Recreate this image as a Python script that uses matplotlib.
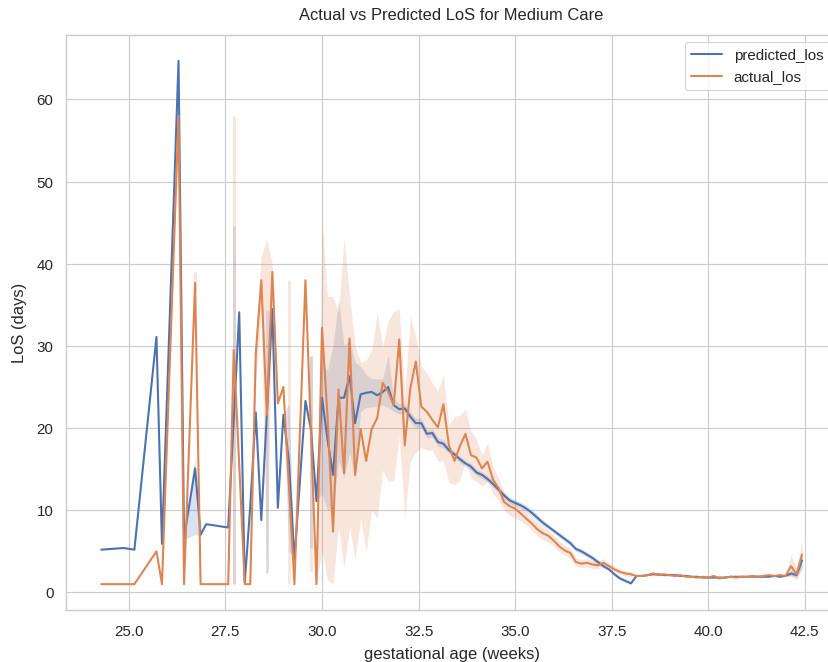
import numpy as np
import matplotlib
matplotlib.use("Agg")
import matplotlib.pyplot as plt
import seaborn as sns

# gestational age in days (x axis is days / 7)
days = [170, 174, 176, 180, 181, 184, 185, 187, 188, 189, 193] + list(range(194, 298))

predicted_los = [
    5.2, 5.4, 5.2, 31.1, 5.9, 64.7, 6.6, 15.1, 7.0, 8.3, 7.9,
    21.0, 34.1, 1.2, 10.5, 21.9, 8.8, 21.7, 34.5, 10.3, 21.6,   # 194-203
    16.0, 4.0, 13.6, 23.3, 19.8, 11.1, 23.7, 18.6, 14.3, 23.7,   # 204-213
    23.7, 26.3, 20.6, 24.1, 24.3, 24.4, 24.0, 24.4, 25.0, 22.8,  # 214-223
    22.3, 22.4, 21.4, 20.6, 20.6, 19.3, 19.4, 18.3, 18.1, 17.3,  # 224-233
    16.8, 16.2, 15.7, 15.3, 14.6, 14.3, 13.8, 13.2, 12.5, 11.8,  # 234-243
    11.2, 10.9, 10.6, 10.2, 9.7, 9.1, 8.5, 8.0, 7.5, 7.0,        # 244-253
    6.5, 6.0, 5.3, 5.0, 4.6, 4.2, 3.7, 3.2, 2.8, 2.2,            # 254-263
    1.7, 1.4, 1.1, 2.0, 2.0, 2.1, 2.2, 2.2, 2.1, 2.1,            # 264-273
    2.1, 2.0, 2.0, 1.9, 1.9, 1.8, 1.8, 1.8, 1.8, 1.8,            # 274-283
    1.9, 1.9, 1.9, 1.9, 1.9, 1.9, 1.9, 1.9, 2.0, 1.9,            # 284-293
    2.0, 2.3, 2.1, 3.9,                                          # 294-297
]

actual_los = [
    1.0, 1.0, 1.0, 5.0, 1.0, 58.0, 1.0, 37.7, 1.0, 1.0, 1.0,
    29.5, 15.5, 1.0, 1.0, 29.1, 38.0, 21.6, 39.0, 23.0, 25.0,    # 194-203
    13.0, 1.0, 19.5, 38.0, 19.5, 1.0, 32.2, 21.4, 7.4, 24.7,     # 204-213
    14.5, 30.9, 14.3, 19.9, 16.0, 19.9, 21.2, 25.5, 24.4, 22.8,  # 214-223
    30.8, 17.9, 24.8, 28.1, 22.6, 22.0, 21.0, 20.1, 22.9, 17.9,  # 224-233
    16.0, 17.8, 19.3, 16.7, 16.4, 15.1, 15.9, 13.7, 12.7, 11.0,  # 234-243
    10.5, 10.2, 9.6, 9.0, 8.4, 7.7, 7.2, 6.9, 6.3, 5.6,          # 244-253
    5.1, 4.8, 3.7, 3.5, 3.6, 3.4, 3.3, 3.6, 3.2, 2.8,            # 254-263
    2.5, 2.3, 2.2, 2.0, 2.0, 2.1, 2.3, 2.1, 2.2, 2.1,            # 264-273
    2.0, 2.1, 1.9, 1.9, 1.8, 1.9, 1.8, 2.0, 1.7, 1.8,            # 274-283
    1.9, 1.8, 1.9, 1.9, 2.0, 1.9, 2.0, 2.1, 2.0, 2.1,            # 284-293
    2.0, 3.2, 2.2, 4.6,                                          # 294-297
]

# confidence band (low, high) where a band is visible
predicted_ci = {
    185: (6.5, 6.8), 187: (7.0, 16.5), 194: (1.0, 44.6), 200: (2.4, 34.4),
    204: (5.0, 23.0), 208: (5.4, 28.8), 210: (12.0, 28.0), 211: (10.0, 27.0),
    212: (10.0, 30.0), 213: (16.0, 35.7), 214: (14.0, 30.0), 215: (17.0, 30.8),
    216: (13.7, 28.0), 217: (22.0, 27.5), 218: (22.5, 26.5), 219: (22.6, 26.0),
    220: (22.6, 26.0), 221: (22.8, 26.0), 222: (22.5, 28.9), 223: (22.0, 23.6),
    224: (21.7, 23.0), 225: (21.8, 23.0), 226: (20.8, 22.0), 227: (20.0, 21.2),
    228: (20.0, 21.2), 229: (18.8, 19.8), 230: (18.9, 19.9), 231: (17.8, 18.8),
    232: (17.6, 18.6), 233: (16.9, 17.7), 234: (16.4, 17.2), 235: (15.8, 16.6),
    236: (15.3, 16.1), 237: (14.9, 15.7), 238: (14.2, 15.0), 239: (13.9, 14.7),
    240: (13.4, 14.2), 241: (12.8, 13.6), 242: (12.1, 12.9), 243: (11.4, 12.2),
    244: (10.8, 11.6), 245: (10.5, 11.3), 246: (10.2, 11.0), 247: (9.8, 10.6),
    248: (9.3, 10.1), 249: (8.7, 9.5), 250: (8.1, 8.9), 251: (7.7, 8.3),
    252: (7.2, 7.8), 253: (6.7, 7.3), 254: (6.2, 6.8), 255: (5.7, 6.3),
    256: (5.0, 5.6), 257: (4.7, 5.3), 258: (4.3, 4.9), 259: (3.9, 4.5),
    260: (3.4, 4.0), 261: (3.0, 3.4), 262: (2.6, 3.0), 263: (2.0, 2.4),
    264: (1.5, 1.9), 265: (1.2, 1.6), 266: (1.0, 1.2),
    295: (2.0, 2.7), 296: (1.8, 2.5), 297: (3.0, 4.7),
}

actual_ci = {
    187: (36.5, 39.0), 194: (1.0, 58.0), 198: (26.0, 32.0), 199: (34.0, 41.0),
    200: (1.5, 43.0), 201: (37.0, 40.0), 204: (1.0, 38.0), 208: (2.5, 28.8),
    210: (5.2, 45.5), 211: (1.5, 36.0), 212: (1.0, 36.0), 213: (8.0, 34.0),
    214: (3.0, 43.2), 215: (8.0, 36.0), 216: (4.0, 30.0), 217: (9.0, 28.0),
    218: (4.9, 28.3), 219: (10.0, 29.5), 220: (9.0, 34.0), 221: (14.9, 30.0),
    222: (13.5, 33.0), 223: (13.6, 34.2), 224: (19.0, 34.5), 225: (9.2, 24.0),
    226: (16.0, 33.6), 227: (17.0, 31.1), 228: (17.7, 27.5), 229: (17.3, 26.7),
    230: (17.3, 25.5), 231: (16.0, 24.5), 232: (16.0, 26.5), 233: (13.4, 20.4),
    234: (13.1, 21.4), 235: (13.7, 21.6), 236: (16.1, 22.3), 237: (13.9, 19.6),
    238: (13.5, 18.6), 239: (12.9, 16.7), 240: (13.5, 18.2), 241: (12.0, 15.3),
    242: (11.2, 13.9), 243: (10.0, 12.2), 244: (9.4, 11.5), 245: (9.0, 10.9),
    246: (8.7, 10.3), 247: (8.2, 9.8), 248: (7.6, 9.2), 249: (6.9, 8.5),
    250: (6.4, 8.0), 251: (6.1, 7.6), 252: (5.6, 7.0), 253: (4.9, 6.3),
    254: (4.5, 5.7), 255: (4.2, 5.4), 256: (3.2, 4.2), 257: (3.0, 4.0),
    258: (3.1, 4.1), 259: (2.9, 3.9), 260: (2.9, 3.8), 261: (3.1, 4.1),
    262: (2.8, 3.6), 263: (2.5, 3.2), 264: (2.2, 2.8), 265: (2.0, 2.6),
    266: (1.9, 2.5), 270: (2.0, 2.6),
    295: (2.0, 4.6), 296: (1.5, 3.0), 297: (2.9, 6.3),
}

# days whose band shows only as a thin vertical streak
predicted_spikes = [194, 200, 208]
actual_spikes = [187, 194, 204, 208]

sns.set_theme(style="whitegrid", font_scale=1.2)
plt.rcParams['font.family'] = ['Liberation Sans', 'DejaVu Sans']

pal = sns.color_palette()
weeks = np.array(days) / 7.0

fig, ax = plt.subplots(figsize=(10, 8), dpi=82.8)

series = [("predicted_los", predicted_los, predicted_ci, predicted_spikes, pal[0]),
          ("actual_los", actual_los, actual_ci, actual_spikes, pal[1])]
for name, vals, ci, spikes, col in series:
    lo, hi = [], []
    for d, v in zip(days, vals):
        if d in ci and d not in spikes:
            lo.append(ci[d][0])
            hi.append(ci[d][1])
        else:
            lo.append(v)
            hi.append(v)
    ax.plot(weeks, vals, color=col, label=name, linewidth=1.8)
    ax.fill_between(weeks, lo, hi, color=col, alpha=0.2, linewidth=0)
    sx = [d / 7.0 for d in spikes]
    ax.vlines(sx, [ci[d][0] for d in spikes], [ci[d][1] for d in spikes],
              color=col, alpha=0.2, linewidth=2.5, zorder=1)

ax.set_title("Actual vs Predicted LoS for Medium Care", pad=13)
ax.set_xlabel("gestational age (weeks)", labelpad=7)
ax.set_ylabel("LoS (days)", labelpad=8)
ax.tick_params(axis="x", pad=6)
ax.tick_params(axis="y", pad=5)
ax.legend(loc="upper right")

# right edge of the reference is cropped, so the axes run past the figure
fig.subplots_adjust(left=0.08, right=1.011, top=0.947, bottom=0.078)
fig.savefig("out.png", dpi=82.8)
